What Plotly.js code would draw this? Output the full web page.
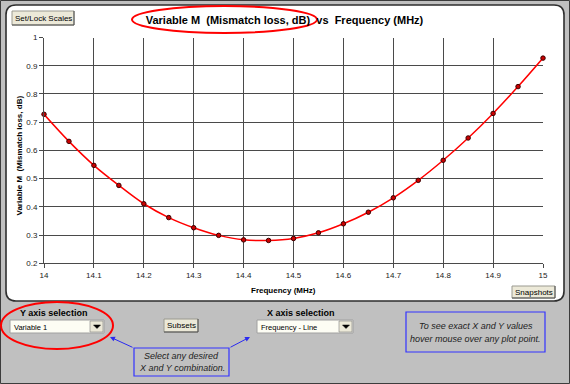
<!DOCTYPE html>
<html>
<head>
<meta charset="utf-8">
<script src="https://cdn.plot.ly/plotly-3.0.1.min.js"></script>
<style>html,body{margin:0;padding:0;background:#c0c0c0;}#chart{width:570px;height:384px;}</style>
</head>
<body>
<div id="chart"></div>
<script>
// ---- data ----
const freq = [14, 14.05, 14.1, 14.15, 14.2, 14.25, 14.3, 14.35, 14.4, 14.45, 14.5,
              14.55, 14.6, 14.65, 14.7, 14.75, 14.8, 14.85, 14.9, 14.95, 15];
const varM = [0.728, 0.632, 0.547, 0.476, 0.411, 0.362, 0.326, 0.299, 0.283, 0.281, 0.288,
              0.308, 0.340, 0.381, 0.432, 0.494, 0.565, 0.644, 0.731, 0.826, 0.927];
const chartTitle = 'Variable M  (Mismatch loss, dB)  vs  Frequency (MHz)';
const xTitle = 'Frequency (MHz)';
const yTitle = 'Variable M  (Mismatch loss, dB)';
const yChoice = 'Variable 1';
const xChoice = 'Frequency - Line';

// ---- pixel helpers (margins are zero, so paper == page) ----
const W = 570, H = 384;
const X = p => p / W;
const Y = p => 1 - p / H;
const FONT = 'Liberation Sans, Arial, sans-serif';

function roundRect(x0, y0, x1, y1, r) {
  return 'M' + X(x0 + r) + ',' + Y(y0) +
    ' L' + X(x1 - r) + ',' + Y(y0) +
    ' Q' + X(x1) + ',' + Y(y0) + ' ' + X(x1) + ',' + Y(y0 + r) +
    ' L' + X(x1) + ',' + Y(y1 - r) +
    ' Q' + X(x1) + ',' + Y(y1) + ' ' + X(x1 - r) + ',' + Y(y1) +
    ' L' + X(x0 + r) + ',' + Y(y1) +
    ' Q' + X(x0) + ',' + Y(y1) + ' ' + X(x0) + ',' + Y(y1 - r) +
    ' L' + X(x0) + ',' + Y(y0 + r) +
    ' Q' + X(x0) + ',' + Y(y0) + ' ' + X(x0 + r) + ',' + Y(y0) + ' Z';
}
function rect(x0, y0, x1, y1, fill, line, lw, layer) {
  return {type: 'rect', xref: 'paper', yref: 'paper', x0: X(x0), x1: X(x1), y0: Y(y0), y1: Y(y1),
          fillcolor: fill, line: {color: line, width: lw}, layer: layer || 'above'};
}
function seg(x0, y0, x1, y1, color, w) {
  return {type: 'line', xref: 'paper', yref: 'paper', x0: X(x0), x1: X(x1), y0: Y(y0), y1: Y(y1),
          line: {color: color, width: w}};
}
function ellipse(x0, y0, x1, y1) {
  return {type: 'circle', xref: 'paper', yref: 'paper', x0: X(x0), x1: X(x1), y0: Y(y0), y1: Y(y1),
          line: {color: '#ff0000', width: 2}};
}
function button(x0, y0, x1, y1) {
  return [
    rect(x0, y0, x1, y1, '#ece9d8', '#9a9a90', 1),
    seg(x0, y1, x1, y1, '#505050', 1),
    seg(x1, y0, x1, y1, '#505050', 1)
  ];
}
function dropdown(x0, y0, x1, y1) {
  const bx0 = x1 - 14;
  const cx = (bx0 + x1) / 2, cy = (y0 + y1) / 2;
  return [
    rect(x0, y0, x1, y1, '#fdfdf4', '#a0a0a0', 1),
    rect(bx0, y0 + 1, x1 - 1, y1 - 1, '#ece9d8', '#808080', 0.6),
    {type: 'path', xref: 'paper', yref: 'paper',
     path: 'M' + X(cx - 3.5) + ',' + Y(cy - 1.5) + ' L' + X(cx + 3.5) + ',' + Y(cy - 1.5) +
           ' L' + X(cx) + ',' + Y(cy + 2) + ' Z',
     fillcolor: '#000', line: {color: '#000', width: 0.5}}
  ];
}
function label(x, y, text, opts) {
  opts = opts || {};
  return Object.assign({xref: 'paper', yref: 'paper', x: X(x), y: Y(y), text: text, showarrow: false,
    xanchor: 'center', yanchor: 'middle',
    font: {family: FONT, size: opts.size || 8, color: opts.color || '#000'}}, opts.extra || {});
}
function arrow(hx, hy, tx, ty) {
  return {xref: 'paper', yref: 'paper', x: X(hx), y: Y(hy), ax: tx - hx, ay: ty - hy,
          text: '', showarrow: true, arrowhead: 2, arrowsize: 1, arrowwidth: 1, arrowcolor: '#2a2af0'};
}

const shapes = [
  // outer frame
  rect(0.5, 0.5, 569.5, 383.5, 'rgba(0,0,0,0)', '#3c3c3c', 1, 'below'),
  // white rounded panel
  {type: 'path', xref: 'paper', yref: 'paper', path: roundRect(6, 5, 564, 301, 10),
   fillcolor: '#ffffff', line: {color: '#2e2e2e', width: 1.6}, layer: 'below'},
  ...button(12, 11, 74, 25),
  ...button(512, 286, 555, 298),
  ...button(164, 319, 198, 332),
  ...dropdown(10, 320, 104, 333),
  ...dropdown(257, 320, 353, 333),
  rect(134, 348, 229, 376, 'rgba(0,0,0,0)', '#3333ff', 1.2),
  rect(406, 312, 545, 352, 'rgba(0,0,0,0)', '#3333ff', 1.2),
  ellipse(132, 6, 317, 33),
  ellipse(1, 302, 113, 349)
];

const annotations = [
  label(283, 290, '<b>' + xTitle + '</b>', {size: 8}),
  label(18.5, 156, '<b>' + yTitle + '</b>', {size: 8, extra: {textangle: -90}}),
  label(43, 18, 'Set/Lock Scales', {size: 8}),
  label(533.5, 292, 'Snapshots', {size: 8}),
  label(181, 325.5, 'Subsets', {size: 8}),
  label(53.5, 313, '<b>Y axis selection</b>', {size: 9}),
  label(301, 313, '<b>X axis selection</b>', {size: 9}),
  label(12, 327, yChoice, {size: 7.5, extra: {xanchor: 'left'}}),
  label(259, 327, xChoice, {size: 7.5, extra: {xanchor: 'left'}}),
  label(181.5, 355.5, '<i>Select any desired</i>', {size: 9, color: '#222'}),
  label(181.5, 368, '<i>X and Y combination.</i>', {size: 9, color: '#222'}),
  label(475.5, 326, '<i>To see exact X and Y values</i>', {size: 9, color: '#222'}),
  label(475.5, 338.5, '<i>hover mouse over any plot point.</i>', {size: 9, color: '#222'}),
  arrow(110, 337, 134, 348),
  arrow(250, 337, 229, 348)
];

const trace = {
  type: 'scatter', mode: 'lines+markers', x: freq, y: varM,
  line: {color: '#ff0000', width: 1.5, shape: 'spline', smoothing: 1},
  marker: {size: 4.5, color: '#cc0000', line: {color: '#3a0000', width: 1}},
  cliponaxis: false, hoverinfo: 'x+y', showlegend: false
};

const axisCommon = {
  showgrid: true, gridcolor: '#4a4a4a', gridwidth: 1,
  showline: true, linecolor: '#4a4a4a', linewidth: 1,
  ticks: 'outside', ticklen: 4, tickcolor: '#4a4a4a', tickwidth: 1,
  tickfont: {family: FONT, size: 8, color: '#222'},
  zeroline: false, fixedrange: true
};

const layout = {
  width: W, height: H,
  margin: {l: 0, r: 0, t: 0, b: 0, pad: 0},
  paper_bgcolor: '#c0c0c0', plot_bgcolor: '#ffffff',
  title: {text: '<b>' + chartTitle + '</b>', xref: 'container', yref: 'container',
          x: X(284.5), y: Y(20), xanchor: 'center', yanchor: 'middle',
          font: {family: FONT, size: 11, color: '#000'}},
  xaxis: Object.assign({}, axisCommon, {range: [14, 15], dtick: 0.1, tick0: 14,
          domain: [X(44), X(543)], mirror: false}),
  yaxis: Object.assign({}, axisCommon, {range: [0.2, 1], dtick: 0.1, tick0: 0.2,
          domain: [Y(263.3), Y(37.5)]}),
  shapes: shapes,
  annotations: annotations,
  showlegend: false
};

Plotly.newPlot('chart', [trace], layout, {displayModeBar: false, staticPlot: false});
</script>
</body>
</html>
